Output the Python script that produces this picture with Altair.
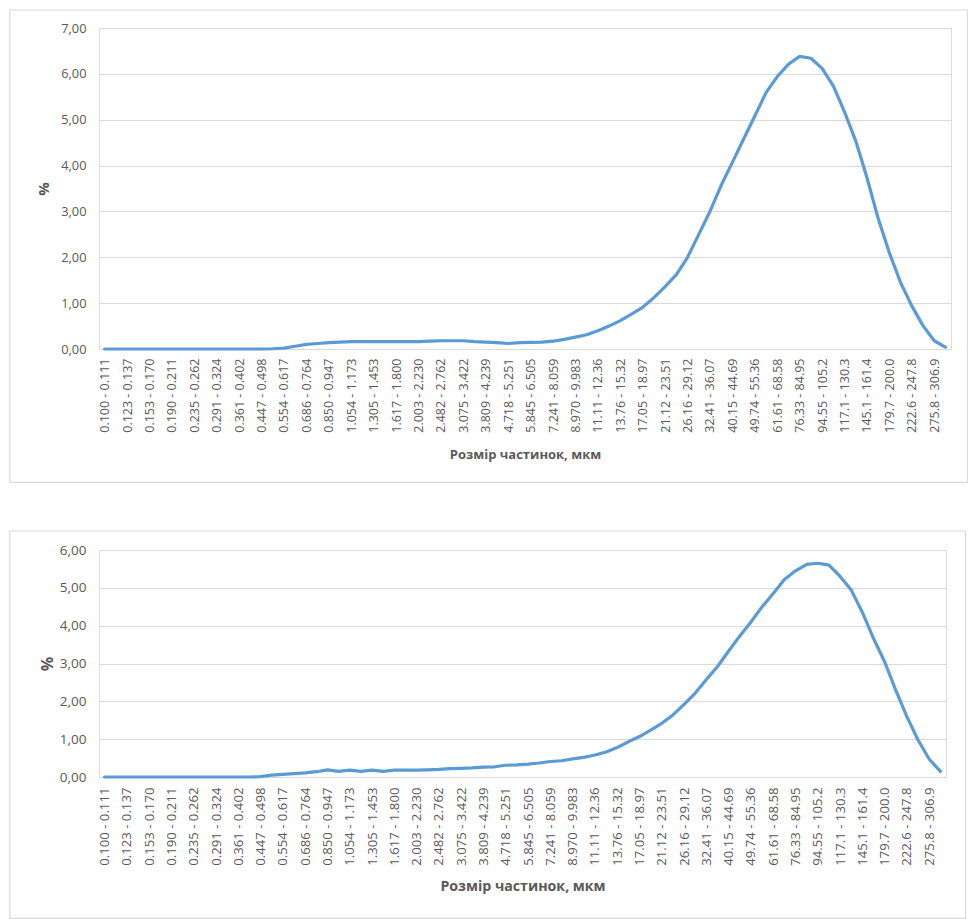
import altair as alt
import pandas as pd

# ---- data -----------------------------------------------------------------
categories = [
    "0.100 - 0.111", "0.111 - 0.123", "0.123 - 0.137", "0.137 - 0.153",
    "0.153 - 0.170", "0.170 - 0.190", "0.190 - 0.211", "0.211 - 0.235",
    "0.235 - 0.262", "0.262 - 0.291", "0.291 - 0.324", "0.324 - 0.361",
    "0.361 - 0.402", "0.402 - 0.447", "0.447 - 0.498", "0.498 - 0.554",
    "0.554 - 0.617", "0.617 - 0.686", "0.686 - 0.764", "0.764 - 0.850",
    "0.850 - 0.947", "0.947 - 1.054", "1.054 - 1.173", "1.173 - 1.305",
    "1.305 - 1.453", "1.453 - 1.617", "1.617 - 1.800", "1.800 - 2.003",
    "2.003 - 2.230", "2.230 - 2.482", "2.482 - 2.762", "2.762 - 3.075",
    "3.075 - 3.422", "3.422 - 3.809", "3.809 - 4.239", "4.239 - 4.718",
    "4.718 - 5.251", "5.251 - 5.845", "5.845 - 6.505", "6.505 - 7.241",
    "7.241 - 8.059", "8.059 - 8.970", "8.970 - 9.983", "9.983 - 11.11",
    "11.11 - 12.36", "12.36 - 13.76", "13.76 - 15.32", "15.32 - 17.05",
    "17.05 - 18.97", "18.97 - 21.12", "21.12 - 23.51", "23.51 - 26.16",
    "26.16 - 29.12", "29.12 - 32.41", "32.41 - 36.07", "36.07 - 40.15",
    "40.15 - 44.69", "44.69 - 49.74", "49.74 - 55.36", "55.36 - 61.61",
    "61.61 - 68.58", "68.58 - 76.33", "76.33 - 84.95", "84.95 - 94.55",
    "94.55 - 105.2", "105.2 - 117.1", "117.1 - 130.3", "130.3 - 145.1",
    "145.1 - 161.4", "161.4 - 179.7", "179.7 - 200.0", "200.0 - 222.6",
    "222.6 - 247.8", "247.8 - 275.8", "275.8 - 306.9", "306.9 - 341.6",
]

values_top = [
    0, 0, 0, 0, 0, 0, 0, 0, 0, 0, 0, 0, 0, 0, 0,
    0.005, 0.02, 0.06, 0.10, 0.12, 0.14, 0.15, 0.16, 0.16, 0.16,
    0.16, 0.16, 0.16, 0.16, 0.17, 0.18, 0.18, 0.18, 0.16, 0.15,
    0.14, 0.12, 0.14, 0.145, 0.15, 0.17, 0.21, 0.26, 0.31, 0.40,
    0.50, 0.62, 0.76, 0.91, 1.12, 1.36, 1.62, 2.00, 2.50, 3.00,
    3.57, 4.07, 4.58, 5.08, 5.59, 5.94, 6.21, 6.38, 6.34, 6.12,
    5.74, 5.17, 4.54, 3.74, 2.85, 2.10, 1.45, 0.94, 0.51, 0.18,
    0.04,
]

values_bottom = [
    0, 0, 0, 0, 0, 0, 0, 0, 0, 0, 0, 0, 0, 0,
    0.01, 0.05, 0.07, 0.09, 0.11, 0.14, 0.19, 0.15, 0.18, 0.15,
    0.18, 0.15, 0.18, 0.18, 0.18, 0.19, 0.20, 0.22, 0.23, 0.24,
    0.26, 0.27, 0.31, 0.32, 0.34, 0.37, 0.41, 0.43, 0.48, 0.52,
    0.58, 0.66, 0.78, 0.93, 1.07, 1.24, 1.42, 1.64, 1.92, 2.22,
    2.58, 2.92, 3.33, 3.73, 4.10, 4.50, 4.85, 5.22, 5.45, 5.62,
    5.65, 5.60, 5.30, 4.94, 4.35, 3.66, 3.04, 2.29, 1.59, 0.97,
    0.47, 0.15,
]

y_ticks_top = [0, 1, 2, 3, 4, 5, 6, 7]
y_ticks_bottom = [0, 1, 2, 3, 4, 5, 6]
x_title = "Розмір частинок, мкм"
y_title = "%"

# ---- styling -------------------------------------------------------------
FONT = "Open Sans"
TXT = "#595959"
GRID = "#d9d9d9"
LINE = "#5b9bd5"
shown_labels = categories[::2]
label_expr = "replace(format(datum.value, '.2f'), '.', ',')"


def panel(values, yticks, width, height, frame, label_size, title_size,
          ypad, ytitlepad, xpad, xtitlepad):
    df = pd.DataFrame({"cat": categories, "val": values})
    line = alt.Chart(df).mark_line(color=LINE, strokeWidth=3.2,
                                   strokeCap="round", strokeJoin="round").encode(
        x=alt.X("cat:N", sort=categories,
                scale=alt.Scale(paddingOuter=0.5),
                axis=alt.Axis(values=shown_labels, labelAngle=-90,
                              labelFont=FONT, labelFontSize=label_size,
                              labelColor=TXT, ticks=False, tickSize=0,
                              labelPadding=xpad, domainColor=GRID,
                              domainWidth=1, grid=False, title=x_title,
                              titleFont=FONT, titleFontSize=title_size,
                              titleColor=TXT, titleFontWeight="bold",
                              titlePadding=xtitlepad, labelOverlap=False)),
        y=alt.Y("val:Q",
                scale=alt.Scale(domain=[yticks[0], yticks[-1]], nice=False),
                axis=alt.Axis(values=yticks, labelExpr=label_expr,
                              labelFont=FONT, labelFontSize=label_size + 0.3,
                              labelColor=TXT, ticks=False, tickSize=0,
                              domain=False, labelPadding=ypad,
                              gridColor=GRID, gridWidth=1.2, title=y_title,
                              titleFont=FONT, titleFontSize=title_size + 2,
                              titleColor=TXT, titleFontWeight="bold",
                              titlePadding=ytitlepad)),
    )
    one = pd.DataFrame({"k": [0]})
    fx1, fy1, fx2, fy2 = frame
    box = alt.Chart(one).mark_rect(fill=None, stroke=GRID, strokeWidth=1.2,
                                   fillOpacity=0).encode(
        x=alt.value(fx1), x2=alt.value(fx2),
        y=alt.value(fy1), y2=alt.value(fy2))
    return alt.layer(box, line).properties(width=width, height=height)


top = panel(values_top, y_ticks_top, 852, 321, (-89.2, -18, 868.5, 454.3),
            12.5, 13, 13, 9, 9, 16)
bottom = panel(values_bottom, y_ticks_bottom, 847, 227, (-89.2, -19, 866.5, 368.4),
               13.2, 14.2, 13, 4, 10, 14)

chart = alt.vconcat(top, bottom, spacing=45).properties(
    padding={"left": 0, "top": 0, "right": 0, "bottom": 0}
).configure_view(strokeWidth=0).configure(background="white")

chart.save("out.html", embed_options={"renderer": "svg", "actions": False})
